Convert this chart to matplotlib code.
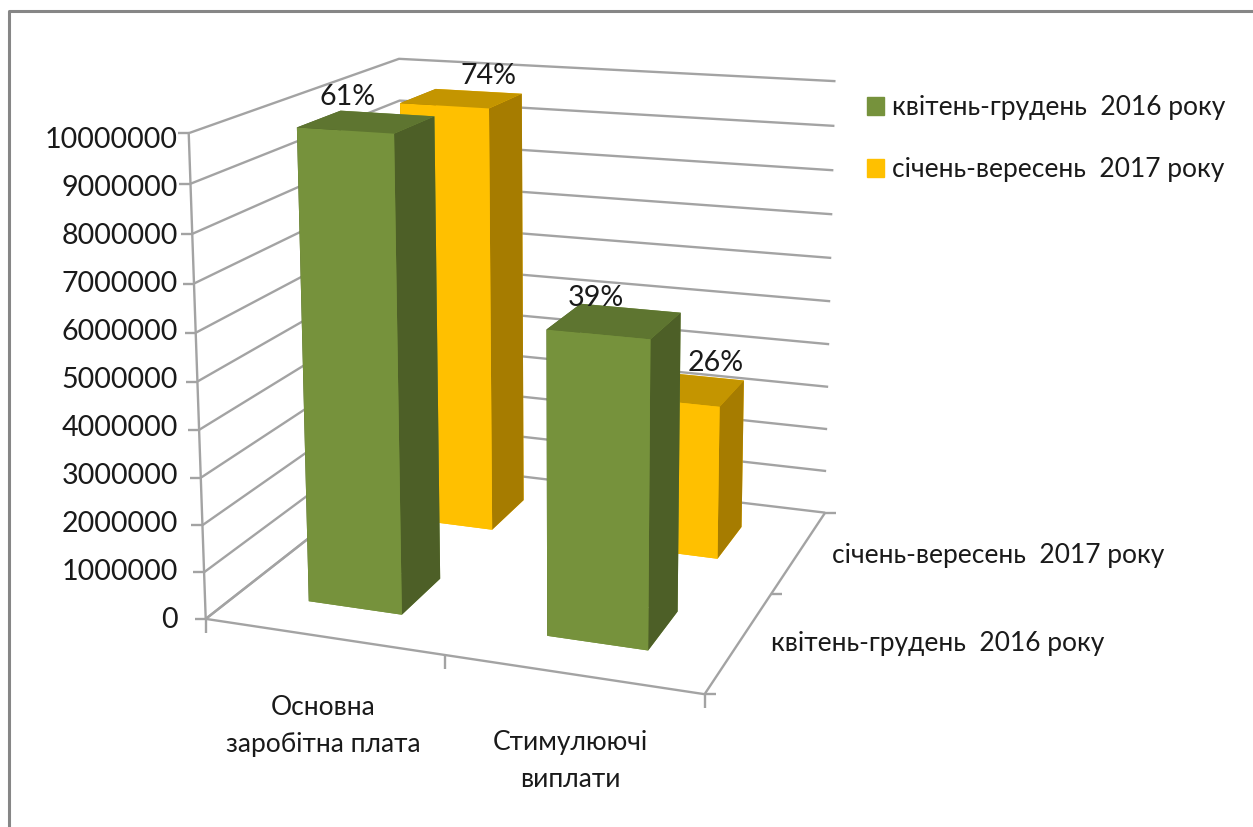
import numpy as np
import matplotlib
matplotlib.use("Agg")
import matplotlib.pyplot as plt
from matplotlib.lines import Line2D
from matplotlib.patches import Patch

W, H = 1253, 827

categories = ["Основна\nзаробітна плата", "Стимулюючі\nвиплати"]
series = ["квітень-грудень  2016 року", "січень-вересень  2017 року"]
values_2016 = [9940000, 6290000]
values_2017 = [9600000, 3430000]
labels_2016 = ["61%", "39%"]
labels_2017 = ["74%", "26%"]
z_ticks = [0, 1000000, 2000000, 3000000, 4000000, 5000000, 6000000, 7000000, 8000000, 9000000, 10000000]

GREEN = ["#76923c", "#5e7530", "#76923c", "#76923c", "#4d5f27", "#4d5f27"]
YELLOW = ["#ffc000", "#c49500", "#ffc000", "#ffc000", "#a67c00", "#a67c00"]
GRID = "#a3a3a3"
FONT = ["Lato", "DejaVu Sans"]
FS = 19
FS_NUM = 20.6

fig = plt.figure(figsize=(W / 100, H / 100), dpi=100, facecolor="white")
ax = fig.add_axes([0, 0, 1, 1], projection="3d")
ax.apply_aspect = lambda position=None: None  # keep the stretched axes box
ax.set_xlim(0, 2)
ax.set_ylim(0, 2)
ax.set_zlim(0, 10000000)
ax.view_init(13.4329, -69.7926, 0.2382)
ax.set_proj_type("persp", focal_length=0.518)
ax.set_box_aspect((1.2502, 1.2111, 1))
ax.set_position([0.4176 - 0.6162 / 2, 0.5753 - 1.1067 / 2, 0.6162, 1.1067])
ax.set_axis_off()
ax.computed_zorder = False


def line3d(xs, ys, zs):
    ax.plot(xs, ys, zs, color=GRID, lw=1.7, zorder=1, solid_capstyle="butt")


for z in z_ticks:
    line3d([0, 0, 2], [0, 2, 2], [z, z, z])
    ax.plot([0], [0], [z], marker=0, ms=8, mew=1.7, color=GRID, zorder=1)
line3d([0, 0], [0, 0], [0, z_ticks[-1]])
line3d([0, 2, 2], [0, 0, 2], [0, 0, 0])
line3d([0, 0], [0, 2], [0, 0])
for x in [0, 1, 2]:
    ax.plot([x], [0], [0], marker=3, ms=10, mew=1.7, color=GRID, zorder=1)
for y in [0, 1, 2]:
    ax.plot([2], [y], [0], marker=1, ms=8, mew=1.7, color=GRID, zorder=1)

BAR = 0.4
for i, v in enumerate(values_2017):
    ax.bar3d(i + 0.3, 1.3, 0, BAR, BAR, v, color=YELLOW, shade=False, zorder=2 + i * 0.1, edgecolor="none", linewidth=0)
for i, v in enumerate(values_2016):
    ax.bar3d(i + 0.3, 0.3, 0, BAR, BAR, v, color=GREEN, shade=False, zorder=3 + i * 0.1, edgecolor="none", linewidth=0)


def txt(x, y, s, ha="center", size=FS, **kw):
    fig.text(x / W, 1 - y / H, s, ha=ha, va="center", family=FONT, fontsize=size, color="#1a1a1a", **kw)


for t, yy in zip(z_ticks, np.linspace(620.5, 140, len(z_ticks))):
    txt(178, yy, str(t), ha="right", size=FS_NUM)

for s, (x, y) in zip(labels_2016 + labels_2017, [(348, 97), (596, 298), (488, 76), (716, 363)]):
    txt(x, y, s, size=FS_NUM)

txt(323, 726, categories[0], linespacing=1.56)
txt(570, 761, categories[1], linespacing=1.56)
txt(832, 556, series[1], ha="left")
txt(771, 644, series[0], ha="left")

fig.legend(handles=[Patch(color="#76923c"), Patch(color="#ffc000")], labels=series, loc="upper left",
           bbox_to_anchor=(867 / W, 1 - 95 / H), frameon=False, prop={"family": FONT, "size": FS},
           handlelength=0.65, handleheight=0.65, handletextpad=0.3, labelspacing=1.42, labelcolor="#1a1a1a",
           borderpad=0, borderaxespad=0)

# chart frame, only top and left edges fall inside the picture
fig.add_artist(Line2D([9 / W, 9 / W, 1], [0, 1 - 10.5 / H, 1 - 10.5 / H], color="#868686", lw=2.2))

fig.savefig("out.png", dpi=100)
